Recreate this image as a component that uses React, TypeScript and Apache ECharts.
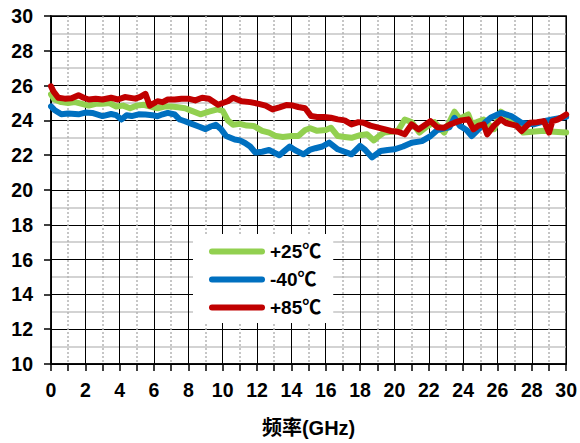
import React, { useEffect, useRef } from "react";
import * as echarts from "echarts";

const xTicks = { min: 0, max: 30, interval: 2 };
const yTicks = { min: 10, max: 30, interval: 2 };
const xName = "频率(GHz)";
const seriesNames = ["+25℃", "-40℃", "+85℃"];

const data25: [number, number][] = [
  [0, 25.5], [0.2, 25.2], [0.6, 25.05], [1.0, 25.0], [1.4, 25.05], [1.8, 24.95], [2.2, 24.85], [2.6, 24.95],
  [3.0, 24.95], [3.4, 25.0], [3.8, 24.8], [4.2, 24.85], [4.6, 24.7], [5.0, 24.85], [5.4, 24.9], [5.8, 24.8],
  [6.2, 24.7], [6.6, 24.8], [7.0, 24.8], [7.4, 24.75], [7.8, 24.7], [8.2, 24.55], [8.7, 24.35], [9.2, 24.5],
  [9.7, 24.63], [10.0, 24.55], [10.3, 24.0], [10.6, 23.75], [11.0, 23.8], [11.4, 23.7], [11.8, 23.68],
  [12.3, 23.4], [12.7, 23.3], [13.1, 23.1], [13.5, 23.05], [14.0, 23.1], [14.4, 23.1], [14.8, 23.45],
  [15.1, 23.55], [15.5, 23.4], [16.0, 23.45], [16.3, 23.58], [16.7, 23.1], [17.1, 23.05], [17.5, 23.0],
  [18.0, 23.15], [18.4, 23.2], [18.8, 22.85], [19.1, 23.1], [19.4, 23.3], [19.8, 23.35], [20.2, 23.4],
  [20.6, 24.05], [21.0, 23.9], [21.45, 23.3], [21.9, 23.65], [22.33, 23.9], [22.6, 23.6], [22.9, 23.3],
  [23.2, 23.9], [23.5, 24.5], [23.8, 24.1], [24.3, 24.34], [24.5, 23.8], [24.8, 23.9], [25.2, 24.05],
  [25.5, 23.75], [25.8, 23.5], [26.2, 24.5], [26.6, 24.2], [27.0, 23.95], [27.5, 23.3], [28.0, 23.35],
  [28.7, 23.4], [29.3, 23.35], [30, 23.3],
];

const dataM40: [number, number][] = [
  [0, 24.8], [0.2, 24.6], [0.6, 24.35], [1.0, 24.4], [1.6, 24.35], [2.0, 24.45], [2.4, 24.43], [3.0, 24.25],
  [3.5, 24.37], [3.8, 24.3], [4.1, 24.05], [4.4, 24.3], [4.7, 24.25], [5.1, 24.35], [5.5, 24.34], [5.9, 24.3],
  [6.2, 24.24], [6.5, 24.35], [6.8, 24.43], [7.2, 24.34], [7.5, 24.05], [7.8, 23.95], [8.2, 23.8],
  [8.6, 23.65], [9.0, 23.5], [9.3, 23.65], [9.6, 23.75], [9.9, 23.5], [10.2, 23.1], [10.7, 22.9],
  [11.0, 22.85], [11.3, 22.7], [11.6, 22.5], [11.9, 22.15], [12.3, 22.2], [12.7, 22.3], [13.0, 22.15],
  [13.3, 22.0], [13.6, 22.25], [13.9, 22.5], [14.2, 22.3], [14.7, 22.05], [15.06, 22.3], [15.4, 22.4],
  [15.8, 22.5], [16.2, 22.72], [16.7, 22.34], [17.1, 22.2], [17.5, 22.05], [18.0, 22.53], [18.3, 22.3],
  [18.7, 21.87], [19.2, 22.24], [19.6, 22.3], [20.0, 22.34], [20.5, 22.5], [21.0, 22.72], [21.6, 22.81],
  [22.1, 23.1], [22.5, 23.45], [22.9, 23.55], [23.2, 23.6], [23.5, 24.15], [23.8, 23.7], [24.2, 23.45],
  [24.5, 23.1], [25.0, 23.58], [25.3, 23.9], [25.6, 24.15], [26.2, 24.43], [26.8, 24.25], [27.4, 23.87],
  [28.1, 23.77], [28.7, 23.95], [29.2, 24.05], [30, 24.2],
];

const data85: [number, number][] = [
  [0, 25.96], [0.15, 25.65], [0.43, 25.3], [0.8, 25.25], [1.2, 25.27], [1.6, 25.45], [1.9, 25.3], [2.2, 25.2],
  [2.6, 25.25], [3.0, 25.2], [3.5, 25.3], [3.9, 25.2], [4.3, 25.34], [4.9, 25.25], [5.2, 25.35], [5.5, 25.53],
  [5.75, 24.85], [6.2, 25.1], [6.5, 25.05], [6.8, 25.2], [7.2, 25.2], [7.6, 25.25], [8.0, 25.25], [8.4, 25.15],
  [8.8, 25.3], [9.2, 25.25], [9.73, 24.9], [10.0, 25.0], [10.3, 25.1], [10.6, 25.3], [11.1, 25.1],
  [11.6, 25.05], [12.1, 24.95], [12.5, 24.85], [12.9, 24.63], [13.3, 24.75], [13.7, 24.88], [14.1, 24.85],
  [14.4, 24.77], [14.8, 24.7], [15.15, 24.25], [15.5, 24.2], [15.9, 24.2], [16.3, 24.15], [16.7, 24.06],
  [17.1, 24.0], [17.5, 23.77], [17.9, 23.9], [18.2, 23.87], [18.6, 23.7], [19.0, 23.6], [19.4, 23.5],
  [19.8, 23.39], [20.2, 23.35], [20.6, 23.2], [21.0, 23.77], [21.4, 23.48], [21.8, 23.75], [22.1, 23.96],
  [22.5, 23.6], [22.9, 23.58], [23.2, 23.75], [23.5, 23.87], [23.9, 24.0], [24.3, 24.06], [24.6, 23.48],
  [24.9, 23.7], [25.2, 23.77], [25.4, 23.2], [25.8, 23.7], [26.2, 24.06], [26.5, 23.85], [26.8, 23.77],
  [27.1, 23.7], [27.4, 23.39], [27.9, 23.87], [28.3, 23.9], [28.7, 23.96], [29.0, 23.3], [29.2, 23.96],
  [29.5, 24.05], [29.7, 24.15], [30, 24.34],
];

const colors = ["#92d050", "#0070c0", "#c00000"];
const FONT = "'Liberation Sans', Arial, 'Noto Sans CJK SC', sans-serif";
const CAPSULE = "path://M3,0 L53,0 A3,3 0 0 1 53,6 L3,6 A3,3 0 0 1 3,0 Z";

export default function App() {
  const ref = useRef<HTMLDivElement>(null);
  useEffect(() => {
    if (!ref.current) return;
    const chart = echarts.init(ref.current, null, { renderer: "svg" });
    const allData = [data25, dataM40, data85];
    chart.setOption({
      animation: false,
      backgroundColor: "#ffffff",
      grid: {
        left: 51, right: 13, top: 16, bottom: 77,
        show: true, borderColor: "#000", borderWidth: 1.5, backgroundColor: "transparent",
      },
      legend: {
        show: true,
        orient: "vertical",
        left: 193,
        top: 234,
        icon: CAPSULE,
        itemWidth: 56,
        itemHeight: 7,
        itemGap: 9,
        padding: [8, 12, 6, 16],
        backgroundColor: "#ffffff",
        data: seriesNames,
        textStyle: { fontFamily: FONT, fontSize: 19, fontWeight: "bold", color: "#000" },
      },
      xAxis: {
        type: "value",
        min: xTicks.min, max: xTicks.max, interval: xTicks.interval,
        name: xName, nameLocation: "middle", nameGap: 54,
        nameTextStyle: { fontFamily: FONT, fontSize: 20, fontWeight: "bold", color: "#000" },
        axisLine: { show: true, onZero: false, lineStyle: { color: "#000", width: 1.5 } },
        axisTick: { show: true, inside: false, length: 7, lineStyle: { color: "#000", width: 1.5 } },
        minorTick: { show: true, splitNumber: 2, length: 7, lineStyle: { color: "#000", width: 1.5 } },
        axisLabel: { margin: 16, fontFamily: FONT, fontSize: 19.5, fontWeight: "bold", color: "#000" },
        splitLine: { show: true, lineStyle: { color: "#000", width: 1 } },
        minorSplitLine: { show: true, lineStyle: { color: "#b4b4b4", width: 1.5, type: [2, 2] } },
      },
      yAxis: {
        type: "value",
        min: yTicks.min, max: yTicks.max, interval: yTicks.interval,
        axisLine: { show: true, lineStyle: { color: "#000", width: 1.5 } },
        axisTick: { show: true, inside: false, length: 7, lineStyle: { color: "#000", width: 1.5 } },
        axisLabel: { margin: 18, fontFamily: FONT, fontSize: 19.5, fontWeight: "bold", color: "#000" },
        splitLine: { show: true, lineStyle: { color: "#000", width: 1 } },
        minorTick: { show: false, splitNumber: 2 },
        minorSplitLine: { show: true, lineStyle: { color: "#c4c4c4", width: 1.5 } },
      },
      series: seriesNames.map((name, i) => ({
        name,
        type: "line",
        data: allData[i],
        showSymbol: false,
        symbol: "none",
        color: colors[i],
        lineStyle: { color: colors[i], width: 6, join: "round", cap: "round" },
        z: 3 + i,
      })),
    });
    return () => chart.dispose();
  }, []);
  return (
    <div
      ref={ref}
      style={{ position: "fixed", left: 0, top: 0, width: 580, height: 443, background: "#fff" }}
    />
  );
}
